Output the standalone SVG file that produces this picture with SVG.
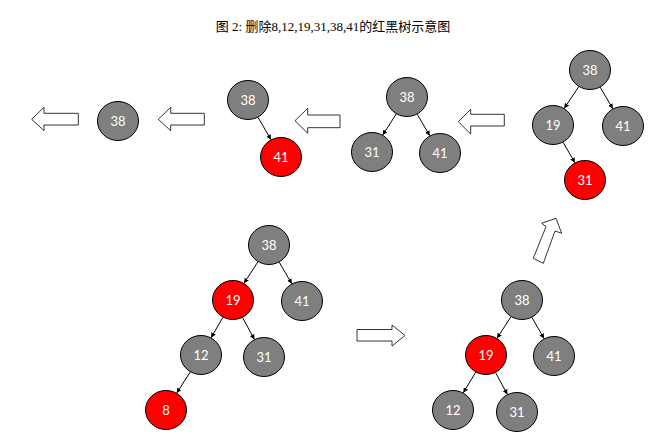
<svg xmlns="http://www.w3.org/2000/svg" width="658" height="444" viewBox="0 0 658 444">
<style>
.g{fill:#7f7f7f;stroke:#000;stroke-width:1}
.r{fill:#ff0000;stroke:#000;stroke-width:1}
.t{fill:#fff;font-family:Lato,"Open Sans","Liberation Sans",sans-serif;font-size:13px;text-anchor:middle;dominant-baseline:central}
.e{stroke:#000;stroke-width:1;fill:none;marker-end:url(#ah)}
.ba{fill:#fff;stroke:#000;stroke-width:0.8;stroke-linejoin:miter}
.title{font-family:"Liberation Serif","Noto Sans CJK SC",serif;font-size:13px;text-anchor:middle;fill:#000}
</style>
<defs>
<marker id="ah" viewBox="0 0 10 10" refX="10" refY="5" markerWidth="5" markerHeight="5" orient="auto" markerUnits="userSpaceOnUse">
<path d="M0,0 L10,5 L0,10 z" fill="#000"/>
</marker>
</defs>
<rect width="658" height="444" fill="#fff"/>
<text class="title" x="333" y="31">图 2: 删除8,12,19,31,38,41的红黑树示意图</text>

<g id="connectors">
<line class="e" x1="258" y1="261.7" x2="244" y2="283.3"/>
<line class="e" x1="279.2" y1="262.2" x2="291.8" y2="283.8"/>
<line class="e" x1="222.9" y1="317.3" x2="211.1" y2="337.7"/>
<line class="e" x1="242.6" y1="317.6" x2="254.4" y2="339.4"/>
<line class="e" x1="190.3" y1="371.9" x2="176.7" y2="393.1"/>
<line class="e" x1="511" y1="316.7" x2="497" y2="338.3"/>
<line class="e" x1="531.9" y1="317.4" x2="544.1" y2="338.6"/>
<line class="e" x1="475.7" y1="372.2" x2="463.3" y2="392.8"/>
<line class="e" x1="495.6" y1="372.6" x2="507.4" y2="394.4"/>
<line class="e" x1="578.8" y1="86.6" x2="564.2" y2="108.4"/>
<line class="e" x1="600.2" y1="87.2" x2="612.8" y2="108.8"/>
<line class="e" x1="563.1" y1="142.3" x2="574.9" y2="162.7"/>
<line class="e" x1="396.3" y1="113.9" x2="382.7" y2="135.1"/>
<line class="e" x1="417.2" y1="114.2" x2="429.8" y2="135.8"/>
<line class="e" x1="258" y1="117.3" x2="271" y2="139.7"/>
</g>

<g id="block-arrows">
<polygon class="ba" points="31.7,119.3 44,107.3 44,113.3 78.3,113.3 78.3,125 44,125 44,130.7"/>
<polygon class="ba" points="158.3,119.3 170.7,107.3 170.7,113.3 204.3,113.3 204.3,125 170.7,125 170.7,130.7"/>
<polygon class="ba" points="295,120.7 307.7,108.3 307.7,115 340,115 340,127.7 307.7,127.7 307.7,133.3"/>
<polygon class="ba" points="458.3,121.7 470.7,109.3 470.7,114.3 504.3,114.3 504.3,126 470.7,126 470.7,134"/>
<polygon class="ba" points="405,335.5 392,325 392,329.5 357,329.5 357,341 392,341 392,346"/>
<polygon class="ba" points="556,218.3 561.7,233.3 555,231 543.3,263.3 533.3,258.3 546,226.7 541.7,223.3"/>
</g>

<g id="n-bl-38"><ellipse class="g" cx="269" cy="245" rx="20.5" ry="19.5"/><text class="t" x="269" y="245">38</text></g>
<g id="n-bl-19"><ellipse class="r" cx="233" cy="300" rx="20.5" ry="19.5"/><text class="t" x="233" y="300">19</text></g>
<g id="n-bl-41"><ellipse class="g" cx="302" cy="301" rx="20.5" ry="19.5"/><text class="t" x="302" y="301">41</text></g>
<g id="n-bl-12"><ellipse class="g" cx="201" cy="355" rx="20.5" ry="19.5"/><text class="t" x="201" y="355">12</text></g>
<g id="n-bl-31"><ellipse class="g" cx="264" cy="357" rx="20.5" ry="19.5"/><text class="t" x="264" y="357">31</text></g>
<g id="n-bl-8"><ellipse class="r" cx="166" cy="410" rx="20.5" ry="19.5"/><text class="t" x="166" y="410">8</text></g>

<g id="n-br-38"><ellipse class="g" cx="522" cy="300" rx="20.5" ry="19.5"/><text class="t" x="522" y="300">38</text></g>
<g id="n-br-19"><ellipse class="r" cx="486" cy="355" rx="20.5" ry="19.5"/><text class="t" x="486" y="355">19</text></g>
<g id="n-br-41"><ellipse class="g" cx="554" cy="356" rx="20.5" ry="19.5"/><text class="t" x="554" y="356">41</text></g>
<g id="n-br-12"><ellipse class="g" cx="453" cy="410" rx="20.5" ry="19.5"/><text class="t" x="453" y="410">12</text></g>
<g id="n-br-31"><ellipse class="g" cx="517" cy="412" rx="20.5" ry="19.5"/><text class="t" x="517" y="412">31</text></g>

<g id="n-tr-38"><ellipse class="g" cx="590" cy="70" rx="20.5" ry="19.5"/><text class="t" x="590" y="70">38</text></g>
<g id="n-tr-19"><ellipse class="g" cx="553" cy="125" rx="20.5" ry="19.5"/><text class="t" x="553" y="125">19</text></g>
<g id="n-tr-41"><ellipse class="g" cx="623" cy="126" rx="20.5" ry="19.5"/><text class="t" x="623" y="126">41</text></g>
<g id="n-tr-31"><ellipse class="r" cx="585" cy="180" rx="20.5" ry="19.5"/><text class="t" x="585" y="180">31</text></g>

<g id="n-tm-38"><ellipse class="g" cx="407" cy="97" rx="20.5" ry="19.5"/><text class="t" x="407" y="97">38</text></g>
<g id="n-tm-31"><ellipse class="g" cx="372" cy="152" rx="20.5" ry="19.5"/><text class="t" x="372" y="152">31</text></g>
<g id="n-tm-41"><ellipse class="g" cx="440" cy="153" rx="20.5" ry="19.5"/><text class="t" x="440" y="153">41</text></g>

<g id="n-t2-38"><ellipse class="g" cx="248" cy="100" rx="20.5" ry="19.5"/><text class="t" x="248" y="100">38</text></g>
<g id="n-t2-41"><ellipse class="r" cx="281" cy="157" rx="20.5" ry="19.5"/><text class="t" x="281" y="157">41</text></g>

<g id="n-t1-38"><ellipse class="g" cx="118" cy="121" rx="20.5" ry="19.5"/><text class="t" x="118" y="121">38</text></g>
</svg>
